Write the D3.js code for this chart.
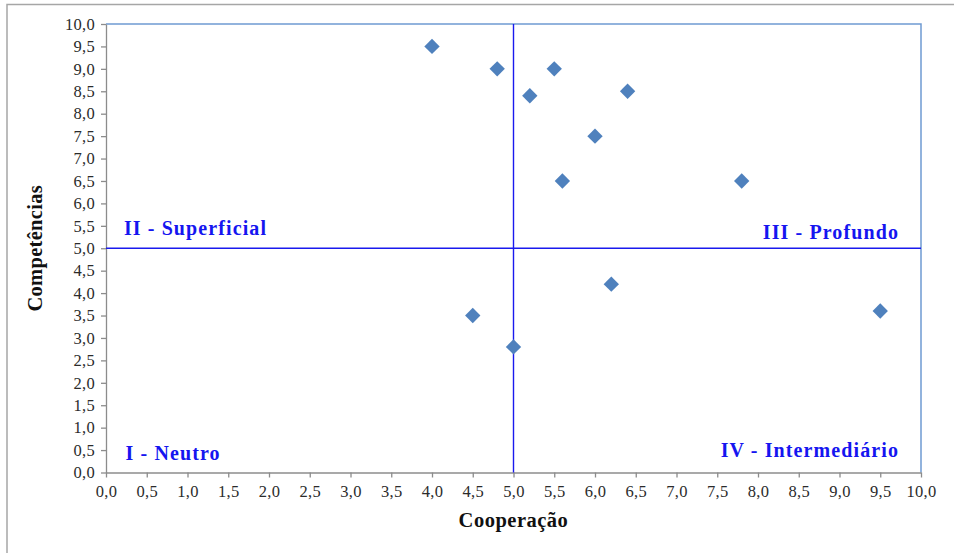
<!DOCTYPE html>
<html>
<head>
<meta charset="utf-8">
<script src="https://cdn.jsdelivr.net/npm/d3@7"></script>
<style>
  body { margin: 0; background: #fff; }
  svg { display: block; }
</style>
</head>
<body>
<div id="chart"></div>
<script>
// Data

const cooperacao   = [4.0, 4.8, 5.5, 5.2, 6.4, 6.0, 5.6, 7.8, 6.2, 4.5, 5.0, 9.5];
const competencias = [9.5, 9.0, 9.0, 8.4, 8.5, 7.5, 6.5, 6.5, 4.2, 3.5, 2.8, 3.6];
const tickValues = d3.range(0, 10.01, 0.5);
const quadrantLabels = ["I - Neutro", "II - Superficial", "III - Profundo", "IV - Intermediário"];
const divider = 5;

// Config

const width = 954;
const height = 553;
const margin = { top: 24, right: 33, bottom: 80.5, left: 106 };
const fontFamily = "'Liberation Serif', 'Times New Roman', serif";

const svg = d3.select("#chart")
  .append("svg")
  .attr("width", width)
  .attr("height", height);

// outer frame (only top and left edge are visible)
svg.append("path")
  .attr("d", `M7,${height} V4.5 H${width}`)
  .attr("fill", "none")
  .attr("stroke", "#a6a6a6")
  .attr("stroke-width", 1.5);

const xScale = d3.scaleLinear()
  .domain([0, 10])
  .range([margin.left, width - margin.right]);

const yScale = d3.scaleLinear()
  .domain([0, 10])
  .range([height - margin.bottom, margin.top]);

const fmt = d => d3.format(".1f")(d).replace(".", ",");

// plot area border (top/right)
svg.append("path")
  .attr("d", `M${xScale(0)},${yScale(10)} H${xScale(10)} V${yScale(0)}`)
  .attr("fill", "none")
  .attr("stroke", "#6f9bd2")
  .attr("stroke-width", 1.5);

// Axes

const xAxis = d3.axisBottom(xScale)
  .tickValues(tickValues)
  .tickFormat(fmt)
  .tickSizeInner(5)
  .tickSizeOuter(0)
  .tickPadding(8);

const yAxis = d3.axisLeft(yScale)
  .tickValues(tickValues)
  .tickFormat(fmt)
  .tickSizeInner(5)
  .tickSizeOuter(0)
  .tickPadding(6);

const gx = svg.append("g")
  .attr("transform", `translate(0, ${yScale(0)})`)
  .call(xAxis);

const gy = svg.append("g")
  .attr("transform", `translate(${xScale(0)}, 0)`)
  .call(yAxis);

[gx, gy].forEach(g => {
  g.select(".domain").attr("stroke", "#8c8c8c").attr("stroke-width", 1.3);
  g.selectAll(".tick line").attr("stroke", "#8c8c8c").attr("stroke-width", 1.3);
  g.selectAll(".tick text")
    .attr("fill", "#2b2b2b")
    .style("font-family", fontFamily)
    .style("font-size", "16.5px")
    .style("letter-spacing", "0.3px");
});

// Axis titles

svg.append("text")
  .attr("x", xScale(5))
  .attr("y", 527)
  .attr("text-anchor", "middle")
  .style("font-family", fontFamily)
  .style("font-size", "20.5px")
  .style("font-weight", "bold")
  .style("letter-spacing", "0.5px")
  .attr("fill", "#111")
  .text("Cooperação");

svg.append("text")
  .attr("transform", `translate(42, ${yScale(5)}) rotate(-90)`)
  .attr("text-anchor", "middle")
  .style("font-family", fontFamily)
  .style("font-size", "20.5px")
  .style("font-weight", "bold")
  .style("letter-spacing", "0.3px")
  .attr("fill", "#111")
  .text("Competências");

// Quadrant lines

svg.append("line")
  .attr("x1", xScale(divider)).attr("x2", xScale(divider))
  .attr("y1", yScale(10)).attr("y2", yScale(0))
  .attr("stroke", "#1a1aee")
  .attr("stroke-width", 1.4);

svg.append("line")
  .attr("x1", xScale(0)).attr("x2", xScale(10))
  .attr("y1", yScale(divider)).attr("y2", yScale(divider))
  .attr("stroke", "#1a1aee")
  .attr("stroke-width", 1.4);

// Quadrant labels

const labelPos = [
  { x: 0.24, y: 0.28, anchor: "start" },
  { x: 0.22, y: 5.3,  anchor: "start" },
  { x: 9.73, y: 5.2,  anchor: "end" },
  { x: 9.73, y: 0.35, anchor: "end" }
];

svg.selectAll("text.quad")
  .data(quadrantLabels)
  .join("text")
  .attr("class", "quad")
  .attr("x", (d, i) => xScale(labelPos[i].x))
  .attr("y", (d, i) => yScale(labelPos[i].y))
  .attr("text-anchor", (d, i) => labelPos[i].anchor)
  .style("font-family", fontFamily)
  .style("font-size", "20px")
  .style("font-weight", "bold")
  .style("letter-spacing", "1.1px")
  .attr("fill", "#1515f0")
  .text(d => d);

// Points

const points = cooperacao.map((c, i) => ({ x: c, y: competencias[i] }));

svg.selectAll("path.dot")
  .data(points)
  .join("path")
  .attr("class", "dot")
  .attr("d", d3.symbol(d3.symbolDiamond2, 150))
  .attr("transform", d => `translate(${xScale(d.x)}, ${yScale(d.y)})`)
  .attr("fill", "#4f81bd");
</script>
</body>
</html>
